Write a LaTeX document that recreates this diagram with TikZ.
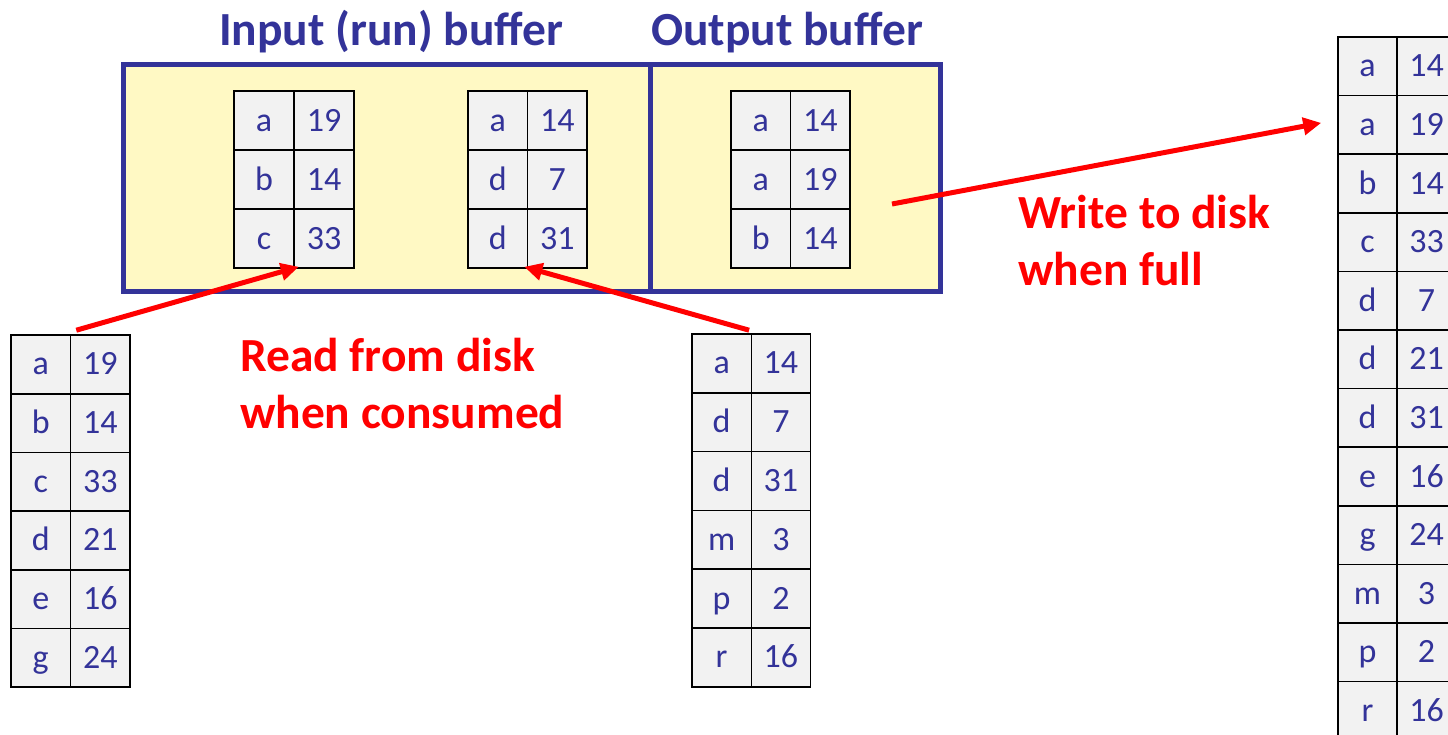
\documentclass[tikz,border=0pt]{standalone}
\usepackage{fontspec}
\setmainfont{Carlito}
\usetikzlibrary{arrows.meta}

\definecolor{inkblue}{HTML}{333399}
\definecolor{bufyellow}{HTML}{FFF9C4}
\definecolor{cellgray}{HTML}{F2F2F2}
\definecolor{alertred}{HTML}{FF0000}

\tikzset{
  cell/.style={draw=black, line width=1.6pt, fill=cellgray, inner sep=0pt,
    text=inkblue, font=\fontsize{34}{40}\selectfont,
    text height=21pt, text depth=0pt},
  bufbox/.style={draw=inkblue, line width=5pt, fill=bufyellow, inner sep=0pt},
  title/.style={text=inkblue, font=\bfseries\fontsize{47.5}{56}\selectfont, inner sep=0pt},
  note/.style={text=alertred, font=\bfseries\fontsize{47.5}{57}\selectfont,
    align=left, inner sep=0pt},
  flow/.style={draw=alertred, line width=5pt,
    -{Triangle[length=18pt,width=17pt]}},
}

% two-column record table: name, left x, top y, column width, row height, key/value rows
\newcommand{\recordtable}[6]{%
  \foreach [count=\i] \k/\v in {#6} {
    \node[cell, minimum width=#4, minimum height=#5] (#1-\i-k)
      at ({#2+0.5*#4},{#3+(\i-0.5)*#5}) {\k};
    \node[cell, minimum width=#4, minimum height=#5] (#1-\i-v)
      at ({#2+1.5*#4},{#3+(\i-0.5)*#5}) {\v};
  }}

\begin{document}
\begin{tikzpicture}[x=1pt, y=-1pt]
  \clip (0,0) rectangle (1448,734);
  \fill[white] (0,0) rectangle (1448,734);

  % buffer pool in memory
  \node[bufbox, minimum width=527, minimum height=227] (inbuf) at (386.5,178) {};
  \node[bufbox, minimum width=290, minimum height=227] (outbuf) at (795,178) {};
  \node[title, anchor=base] (intitle) at (391,45) {Input (run) buffer};
  \node[title, anchor=base] (outtitle) at (787,45) {Output buffer};

  % pages held in the buffers
  \recordtable{runA}{234}{91}{60}{59}{a/19, b/14, c/33}
  \recordtable{runB}{468}{91}{59.5}{59}{a/14, d/7, d/31}
  \recordtable{out}{731}{91}{59.5}{59}{a/14, a/19, b/14}

  % sorted runs on disk
  \recordtable{diskA}{11}{335}{59.5}{58.7}{a/19, b/14, c/33, d/21, e/16, g/24}
  \recordtable{diskB}{692}{334}{59.3}{58.8}{a/14, d/7, d/31, m/3, p/2, r/16}

  % merged output on disk
  \recordtable{merged}{1338}{37}{59}{58.6}{a/14, a/19, b/14, c/33, d/7, d/21, d/31, e/16, g/24, m/3, p/2, r/16}

  % reading and writing
  \draw[flow] ([shift={(5,-4)}]diskA-1-k.north east) -- ([shift={(4,-2)}]runA-3-k.south east);
  \draw[flow] ([shift={(-3,-3)}]diskB-1-k.north east) -- ([shift={(-4,-2)}]runB-3-k.south east);
  \coordinate (flush) at (892,204);
  \draw[flow] (flush) -- ([shift={(-16,-2)}]merged-2-k.west);

  \node[note, anchor=base west] (readnote) at (240,428) {Read from disk\\when consumed};
  \node[note, anchor=base west] (writenote) at (1018,285) {Write to disk\\when full};
\end{tikzpicture}
\end{document}
